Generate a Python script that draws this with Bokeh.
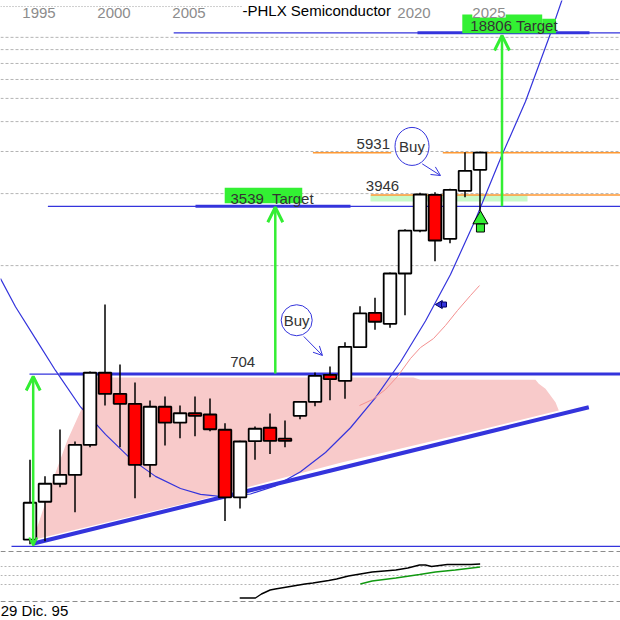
from bokeh.plotting import figure
from bokeh.models import Range1d, LinearScale, Span, Arrow, OpenHead
from bokeh.core.properties import value
from bokeh.embed import file_html
from bokeh.resources import INLINE

# ---------------- data (yearly candles, PHLX Semiconductor) ----------------
YEARS = list(range(1995, 2026))
OPEN = [143, 206, 245, 267, 356, 713, 582, 529, 294, 514, 441, 483, 477, 412, 215,
        369, 420, 378, 471, 539, 699, 660, 912, 1270, 1142, 1854, 2803, 3954, 2588, 4110, 5030]
HIGH = [309, 263, 413, 368, 722, 1375, 772, 649, 546, 567, 520, 567, 557, 439, 371,
        425, 482, 450, 542, 715, 757, 957, 1353, 1467, 1871, 2839, 4032, 4055, 4190, 5959, 5998]
LOW = [137, 141, 237, 186, 348, 520, 348, 213, 261, 354, 380, 387, 406, 171, 193,
       309, 326, 348, 456, 517, 547, 555, 907, 1078, 1099, 1241, 2758, 2086, 2481, 3864, 3382]
CLOSE = [204, 245, 267, 356, 713, 582, 529, 294, 514, 441, 483, 471, 414, 215, 368,
         416, 370, 370, 539, 692, 671, 915, 1262, 1165, 1854, 2803, 3965, 2547, 4150, 4981, 5940]

TICK_YEARS = [1995, 2000, 2005, 2020, 2025]
TICK_LABELS = ["1995", "2000", "2005", "2020", "2025"]
TITLE = "-PHLX Semiconductor"
DATE_LABEL = "29 Dic. 95"

GRID_LEVELS = [2000, 4000, 6000, 8000, 10000, 12000, 14000, 16000, 18000]

LEVEL_BASE = 134
LEVEL_704 = 704
LEVEL_3539 = 3539
LEVEL_3946 = 3946
LEVEL_5931 = 5931
LEVEL_18806 = 18806
BAND_LOW = 3707

# rising support trendline (date, price)
TREND_YEARS = [1995.233, 2032.253]
TREND_PRICES = [137.8, 511.7]

# parabolic curve (date, price)
CURVE_YEARS = [1993.033, 1994.033, 1995.367, 1996.7, 1998.367, 2000.033, 2001.7, 2003.367,
               2005.033, 2006.367, 2007.967, 2009.7, 2011.367, 2013.033, 2014.7, 2016.367,
               2018.033, 2019.7, 2021.367, 2023.033, 2024.7, 2026.367, 2028.033, 2029.7, 2030.5]
CURVE_PRICES = [1766, 1346, 991, 729, 513, 394, 312, 263, 234, 221, 216, 222, 240, 275,
                331, 420, 561, 791, 1173, 1835, 3117, 5609, 9706, 18676, 26160]

# moving average (salmon)
MA_YEARS = [2016.967, 2017.833, 2018.7, 2019.5, 2020.367, 2021.033, 2021.9, 2022.7,
            2023.5, 2024.367, 2024.967]
MA_PRICES = [520, 551, 607, 688, 818, 909, 991, 1124, 1298, 1500, 1651]

# shaded consolidation zone
PINK_YEARS = [1995.253, 1995.48, 1995.92, 1996.587, 1997.48, 1998.48, 1999.367, 2020.567,
              2021.033, 2028.7, 2028.92, 2029.367, 2029.7, 2030.033, 2030.253, 2025.233,
              2015.7, 2006.367]
PINK_PRICES = [143, 161, 195, 260, 371, 510, 681, 681, 666, 666, 641, 611, 573, 537, 496,
               415, 300, 210]

# lower indicator panel
IND_YEARS = [2008.98, 2010.03, 2010.43, 2011.01, 2011.35, 2012.54, 2013.33, 2013.86, 2014.91,
             2015.44, 2016.23, 2017.02, 2017.81, 2018.61, 2019.39, 2020.19, 2020.97, 2021.37,
             2021.77, 2022.82, 2024.4, 2025.01]
IND_VALUES = [7, 7, 15, 23, 25, 31, 35, 37, 42, 45, 51, 55, 59, 61, 63, 67, 73, 73, 70, 74, 74, 75]
SIG_YEARS = [2017.02, 2017.81, 2019.39, 2020.97, 2022.03, 2023.35, 2025.01]
SIG_VALUES = [35, 41, 47, 54, 59, 63, 69]
IND_GRID = [34, 52, 70]
IND_BORDERS = [0, 100]

BLUE = "#3434DC"
GREEN = "#33EE33"
ORANGE = "#FF9933"
TXT = "#333333"
FONT = value("Liberation Sans")

X0, X1 = 1993.0333, 2034.3667
p = figure(width=620, height=620, x_range=Range1d(X0, X1), y_range=Range1d(65.68, 25666),
           y_axis_type="log", x_axis_location=None, y_axis_location=None,
           toolbar_location=None, output_backend="svg", min_border=0,
           outline_line_color=None, background_fill_color="white", border_fill_color="white")
p.extra_y_ranges = {"ind": Range1d(-38, 1202)}
p.extra_y_scales = {"ind": LinearScale()}
for g in p.grid:
    g.visible = False

for v in GRID_LEVELS:
    p.add_layout(Span(location=v, dimension="width", line_color="#B4B4B4",
                      line_dash="3 2", line_width=1, level="underlay"))
for v in IND_GRID:
    p.add_layout(Span(location=v, dimension="width", y_range_name="ind", line_color="#B4B4B4",
                      line_dash="2 2", line_width=1, level="underlay"))
for v in IND_BORDERS:
    p.add_layout(Span(location=v, dimension="width", y_range_name="ind", line_color="#8C8C8C",
                      line_dash="5 3", line_width=1, level="underlay"))

# shaded zone and target band
p.patch(PINK_YEARS, PINK_PRICES, fill_color="#F8CACA", line_color=None)
p.quad(left=[2017.7], right=[2028.167], top=[LEVEL_3946], bottom=[BAND_LOW],
       fill_color="#C8FAC8", line_color=None)

# orange resistance lines
p.segment(x0=[2013.86, 2022.52, 2017.72], x1=[2019.08, X1 + 1, X1 + 1],
          y0=[LEVEL_5931, LEVEL_5931, LEVEL_3946], y1=[LEVEL_5931, LEVEL_5931, LEVEL_3946],
          line_color=ORANGE, line_width=1.6)

# thin blue horizontal lines
p.segment(x0=[1993.767, 1994.967, 1996.193, 2004.58], x1=[X1 + 1, 1996.967, X1 + 1, X1 + 1],
          y0=[LEVEL_BASE, LEVEL_704, LEVEL_3539, LEVEL_18806],
          y1=[LEVEL_BASE, LEVEL_704, LEVEL_3539, LEVEL_18806],
          line_color=BLUE, line_width=1.3)
# thick blue horizontal lines
p.segment(x0=[1996.967, 2006.033, 2020.833], x1=[X1 + 1, 2016.367, 2032.3],
          y0=[LEVEL_704, LEVEL_3539, LEVEL_18806], y1=[LEVEL_704, LEVEL_3539, LEVEL_18806],
          line_color=BLUE, line_width=3)
# trendline
p.line(TREND_YEARS, TREND_PRICES, line_color=BLUE, line_width=4)
# parabolic curve
p.line(CURVE_YEARS, CURVE_PRICES, line_color=BLUE, line_width=1.2)
# moving average
p.line(MA_YEARS, MA_PRICES, line_color="#F49090", line_width=1)

# lower indicator
p.line(IND_YEARS, IND_VALUES, y_range_name="ind", line_color="black", line_width=1.4)
p.line(SIG_YEARS, SIG_VALUES, y_range_name="ind", line_color="#119911", line_width=1.4)

# candles
tops = [max(o, c) for o, c in zip(OPEN, CLOSE)]
bots = [min(o, c) for o, c in zip(OPEN, CLOSE)]
cols = ["white" if c >= o else "#FF0000" for o, c in zip(OPEN, CLOSE)]
p.segment(x0=YEARS, x1=YEARS, y0=LOW, y1=HIGH, line_color="black", line_width=1.5)
p.vbar(x=YEARS, width=0.84, top=tops, bottom=bots, fill_color=cols,
       line_color="black", line_width=1.8)

# signal markers
p.scatter(x=[2025.03], y=[3118], marker="triangle", size=15, fill_color=GREEN, line_color="black")
p.scatter(x=[2025.03], y=[2872], marker="square", size=8, fill_color=GREEN, line_color="black")
p.scatter(x=[2022.33], y=[1375], marker="triangle", angle=1.5708, size=8,
          fill_color=BLUE, line_color="#000060")
p.scatter(x=[2022.6], y=[1375], marker="square", size=5, fill_color=BLUE, line_color="#000060")

# target label boxes
p.quad(left=[2007.98, 2023.82, 2029.147], right=[2013.15, 2029.147, 2030.067],
       top=[4229, 22425, 21515], bottom=[3647, 18731, 18731],
       fill_color="#33F033", line_color=None)

# Buy circles
p.ellipse(x=[2012.78, 2020.467], y=[1182, 6300], width=[31, 34], height=[31, 38],
          width_units="screen", height_units="screen", fill_color=None,
          line_color=BLUE, line_width=1)
p.text(x=[2012.78, 2020.467], y=[1182, 6300], text=["Buy", "Buy"], text_font=FONT,
       text_font_size="15px", text_color=TXT, text_align="center", text_baseline="middle")

# level texts
p.text(x=[2017.887, 2018.5, 2009.18], y=[6459, 4291, 789],
       text=[str(LEVEL_5931), str(LEVEL_3946), str(LEVEL_704)], text_font=FONT,
       text_font_size="15px", text_color=TXT, text_align="center", text_baseline="middle")
p.text(x=[2008.367, 2024.353], y=[3834, 20175],
       text=[f"{LEVEL_3539}\u00a0 Target", f"{LEVEL_18806} Target"], text_font=FONT,
       text_font_size="15px", text_color=TXT, text_align="left", text_baseline="middle")

# top header row
p.segment(x0=[X0], x1=[2009.1], y0=[24221], y1=[24221], line_color="#A0A0A0",
          line_dash="1 2", line_width=1)
p.text(x=[t + 0.6 for t in TICK_YEARS], y=[22860] * len(TICK_YEARS), text=TICK_LABELS,
       text_font=FONT, text_font_size="15px", text_color="#8C8C8C", text_align="center",
       text_baseline="alphabetic", background_fill_color="white")
p.text(x=[2009.167], y=[23306], text=[TITLE], text_font=FONT, text_font_size="15px",
       text_color="black", text_align="left", text_baseline="alphabetic",
       background_fill_color="white")
p.text(x=[1993.05], y=[-18], y_range_name="ind", text=[DATE_LABEL], text_font=FONT,
       text_font_size="15px", text_color="black", text_align="left", text_baseline="middle")

# green target arrows
p.add_layout(Arrow(x_start=1995.213, y_start=135.2, x_end=1995.213, y_end=688,
                   line_color=GREEN, line_width=2.5,
                   end=OpenHead(size=14, line_color=GREEN, line_width=3),
                   start=OpenHead(size=8, line_color=GREEN, line_width=2)))
p.add_layout(Arrow(x_start=2011.353, y_start=708, x_end=2011.353, y_end=3509,
                   line_color=GREEN, line_width=2.5,
                   end=OpenHead(size=15, line_color=GREEN, line_width=3)))
p.add_layout(Arrow(x_start=2026.467, y_start=LEVEL_3539, x_end=2026.467, y_end=18323,
                   line_color=GREEN, line_width=2.5,
                   end=OpenHead(size=15, line_color=GREEN, line_width=3)))
# Buy arrows
p.add_layout(Arrow(x_start=2013.253, y_start=1011, x_end=2014.5, y_end=842,
                   line_color=BLUE, line_width=1,
                   end=OpenHead(size=9, line_color=BLUE, line_width=1)))
p.add_layout(Arrow(x_start=2021.147, y_start=5328, x_end=2022.367, y_end=4760,
                   line_color=BLUE, line_width=1,
                   end=OpenHead(size=9, line_color=BLUE, line_width=1)))

open("out.html", "w").write(file_html(p, INLINE))
